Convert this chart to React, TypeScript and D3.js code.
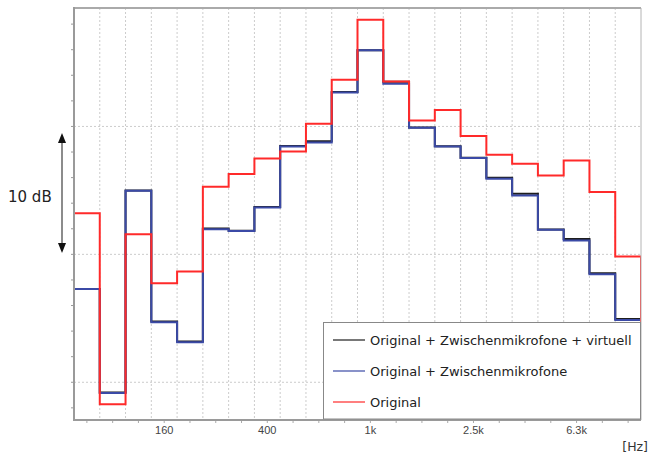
import React, { useRef, useEffect } from "react";
import * as d3 from "d3";

// third-octave bands; first and last are outside the visible plot (clipped)
const bands = ["63", "80", "100", "125", "160", "200", "250", "315", "400", "500", "630", "800", "1k",
	"1.25k", "1.6k", "2k", "2.5k", "3.15k", "4k", "5k", "6.3k", "8k", "10k", "12.5k"];

const tickLabels = ["160", "400", "1k", "2.5k", "6.3k"];

// levels in dB (relative)
const virtuell = [17.45, 7.3, -0.8, 15.0, 4.75, 3.18, 12.02, 11.85, 13.7, 18.48, 18.85, 22.7, 25.95,
	23.5, 19.92, 18.46, 17.55, 15.99, 14.73, 11.95, 11.21, 8.53, 4.95, 3.3];
const zwischen = [17.45, 7.3, -0.84, 14.97, 4.69, 3.13, 11.96, 11.82, 13.66, 18.44, 18.75, 22.66, 25.95,
	23.34, 19.9, 18.44, 17.53, 15.91, 14.6, 11.92, 11.08, 8.45, 4.87, 3.3];
const original = [15.7, 13.22, -1.72, 11.58, 7.75, 8.65, 15.28, 16.28, 17.5, 18.04, 20.21, 23.65, 28.35,
	23.52, 20.47, 21.28, 19.25, 17.79, 17.08, 16.17, 17.34, 14.87, 9.83, 3.7];

const seriesNames = ["Original + Zwischenmikrofone + virtuell", "Original + Zwischenmikrofone", "Original"];
const yTicks = d3.range(-2, 29, 2);
const yGrid = [0, 10, 20];

const App = () => {
	const chartRef = useRef<SVGSVGElement>(null);

	useEffect(() => {
		const width = 649;
		const height = 457;
		const margin = { top: 8, right: 8, bottom: 37, left: 74 };

		d3.select(chartRef.current).selectAll("*").remove();
		const svg = d3.select(chartRef.current).attr("width", width).attr("height", height);

		// band index -> x of its left edge; index 1 (80 Hz) starts at the left border
		const xScale = d3.scaleLinear()
			.domain([1, 23])
			.range([margin.left, width - margin.right]);

		const yScale = d3.scaleLinear()
			.domain([-2.95, 29.26])
			.range([height - margin.bottom, margin.top]);

		const x0 = margin.left, x1 = width - margin.right;
		const y0 = height - margin.bottom, y1 = margin.top;

		svg.append("defs").append("clipPath").attr("id", "plot-clip")
			.append("rect")
			.attr("x", x0).attr("y", y1)
			.attr("width", x1 - x0).attr("height", y0 - y1);

		// grid
		svg.append("g")
			.selectAll("line")
			.data(d3.range(2, 23))
			.enter()
			.append("line")
			.attr("x1", d => xScale(d)).attr("x2", d => xScale(d))
			.attr("y1", y1).attr("y2", y0)
			.attr("stroke", "#cccccc")
			.attr("stroke-dasharray", "2,2");

		svg.append("g")
			.selectAll("line")
			.data(yGrid)
			.enter()
			.append("line")
			.attr("x1", x0).attr("x2", x1)
			.attr("y1", d => yScale(d)).attr("y2", d => yScale(d))
			.attr("stroke", "#cccccc")
			.attr("stroke-dasharray", "2,2");

		// axis ticks
		svg.append("g")
			.selectAll("line")
			.data(yTicks)
			.enter()
			.append("line")
			.attr("x1", x0 - 3).attr("x2", x0)
			.attr("y1", d => yScale(d)).attr("y2", d => yScale(d))
			.attr("stroke", "#999");

		svg.append("g")
			.selectAll("line")
			.data(d3.range(1, 23))
			.enter()
			.append("line")
			.attr("x1", d => xScale(d + 0.5)).attr("x2", d => xScale(d + 0.5))
			.attr("y1", y0).attr("y2", y0 + 3)
			.attr("stroke", "#aaa");

		svg.append("g")
			.selectAll("text")
			.data(tickLabels)
			.enter()
			.append("text")
			.attr("x", d => xScale(bands.indexOf(d) + 0.5))
			.attr("y", y0 + 14)
			.attr("text-anchor", "middle")
			.attr("font-family", "Liberation Sans, Arial, sans-serif")
			.attr("font-size", 11)
			.attr("fill", "#444")
			.text(d => d);

		svg.append("text")
			.attr("x", 648)
			.attr("y", 451)
			.attr("text-anchor", "end")
			.attr("font-family", "DejaVu Sans, sans-serif")
			.attr("font-size", 12.5)
			.attr("fill", "#333")
			.text("[Hz]");

		// step lines
		const line = d3.line<number>()
			.x((d, i) => xScale(i))
			.y(d => yScale(d))
			.curve(d3.curveStepAfter);

		const colors = ["#1e1e1e", "#3b4aa6", "#ff2a2a"];
		const plotG = svg.append("g").attr("clip-path", "url(#plot-clip)");
		[virtuell, zwischen, original].forEach((vals, k) => {
			const pts = [...vals, vals[vals.length - 1]];
			plotG.append("path")
				.attr("d", line(pts))
				.attr("fill", "none")
				.attr("stroke", colors[k])
				.attr("stroke-width", 2);
		});

		// frame
		svg.append("line").attr("x1", x0).attr("x2", x1).attr("y1", y1).attr("y2", y1)
			.attr("stroke", "#aaa").attr("stroke-width", 2);
		svg.append("line").attr("x1", x1).attr("x2", x1).attr("y1", y1).attr("y2", y0)
			.attr("stroke", "#b4b4b4").attr("stroke-width", 1);
		svg.append("line").attr("x1", x0).attr("x2", x0).attr("y1", y1 - 1).attr("y2", y0 + 1)
			.attr("stroke", "#9a9a9a").attr("stroke-width", 2);
		svg.append("line").attr("x1", x0).attr("x2", x1).attr("y1", y0).attr("y2", y0)
			.attr("stroke", "#9a9a9a").attr("stroke-width", 2);

		// legend
		const legend = svg.append("g");
		legend.append("rect")
			.attr("x", 323.5).attr("y", 322.5)
			.attr("width", 317).attr("height", 96.5)
			.attr("fill", "#fff")
			.attr("stroke", "#888");
		seriesNames.forEach((name, k) => {
			const ly = 340 + k * 31;
			legend.append("line")
				.attr("x1", 333).attr("x2", 365)
				.attr("y1", ly).attr("y2", ly)
				.attr("stroke", colors[k]).attr("stroke-width", 1.2);
			legend.append("text")
				.attr("x", 370).attr("y", ly + 4.5)
				.attr("font-family", "DejaVu Sans, sans-serif")
				.attr("font-size", 13)
				.attr("fill", "#222")
				.text(name);
		});

		// 10 dB scale arrow
		const arrow = svg.append("g");
		arrow.append("line")
			.attr("x1", 62).attr("x2", 62)
			.attr("y1", 140).attr("y2", 246)
			.attr("stroke", "#666").attr("stroke-width", 1.5);
		arrow.append("path").attr("d", "M62,133 L58,143 L66,143 Z").attr("fill", "#111");
		arrow.append("path").attr("d", "M62,253 L58,243 L66,243 Z").attr("fill", "#111");
		svg.append("text")
			.attr("x", 8).attr("y", 201.5)
			.attr("font-family", "DejaVu Sans, sans-serif")
			.attr("font-size", 15)
			.attr("fill", "#222")
			.text("10 dB");
	}, []);

	return <svg ref={chartRef} style={{ position: "absolute", left: 0, top: 0 }}></svg>;
};

export default App;
